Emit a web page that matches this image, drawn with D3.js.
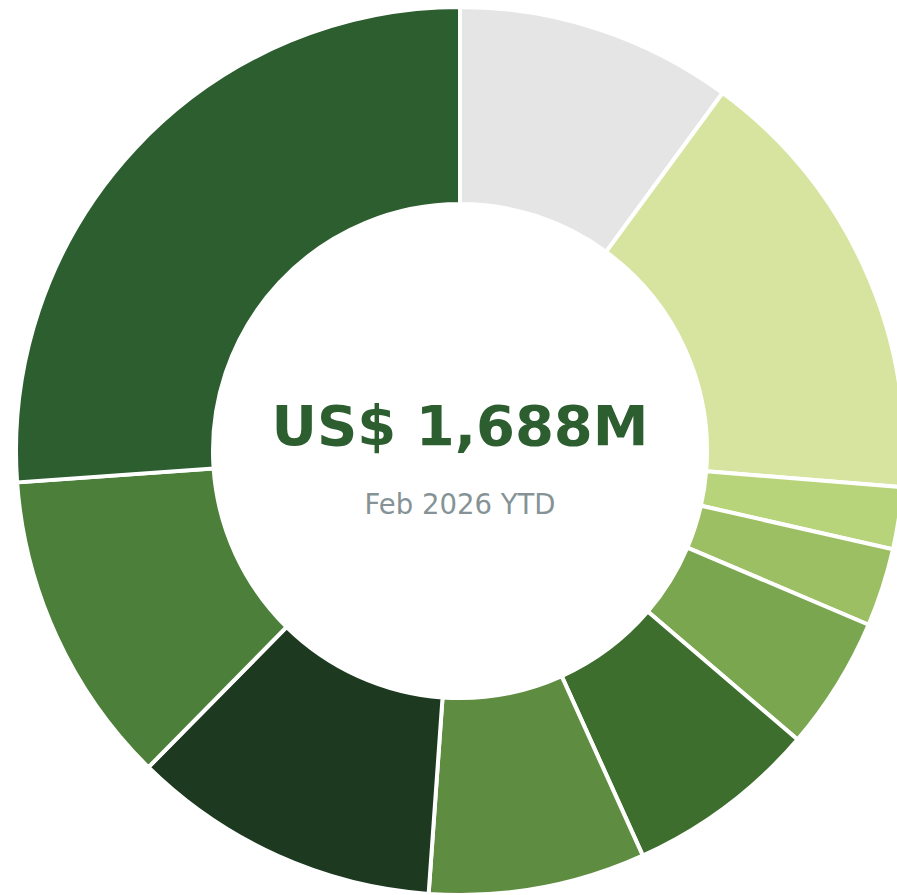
<!DOCTYPE html>
<html lang="en">
<head>
    <meta charset="UTF-8">
    <title>Revenue Donut</title>
    <script src="https://d3js.org/d3.v7.min.js"></script>
    <style>
        body { margin: 0; background: #fff; font-family: "DejaVu Sans", sans-serif; }
        svg { display: block; }
    </style>
</head>
<body>
    <div id="chart"></div>
    <script>
        // Segment values (US$ M), clockwise from 12 o'clock
        const segments = ["S1", "S2", "S3", "S4", "S5", "S6", "S7", "S8", "S9", "S10"];
        const values = [170, 274, 38, 48, 82, 118, 133, 190, 194, 441];
        const colors = ["#e5e5e5", "#d6e4a0", "#b8d47a", "#9bbf62", "#7aa650",
                        "#3d6e2d", "#5e8c40", "#1d3a20", "#4b7f3a", "#2d5e30"];
        const totalLabel = "US$ 1,688M";
        const periodLabel = "Feb 2026 YTD";

        const width = 897, height = 895;
        const cx = 460, cy = 451;
        const outerR = 444, innerR = 247;

        const svg = d3.select("#chart")
            .append("svg")
            .attr("width", width)
            .attr("height", height);

        const g = svg.append("g")
            .attr("transform", `translate(${cx},${cy})`);

        const data = segments.map((s, i) => ({name: s, value: values[i], color: colors[i]}));

        const pie = d3.pie()
            .value(d => d.value)
            .sort(null);

        const arc = d3.arc()
            .innerRadius(innerR)
            .outerRadius(outerR);

        g.selectAll("path")
            .data(pie(data))
            .enter().append("path")
            .attr("d", arc)
            .attr("fill", d => d.data.color)
            .attr("stroke", "#fff")
            .attr("stroke-width", 4);

        g.append("text")
            .attr("x", 0)
            .attr("y", -6)
            .attr("text-anchor", "middle")
            .style("font-size", "56px")
            .style("font-weight", "bold")
            .style("fill", "#2d5e30")
            .text(totalLabel);

        g.append("text")
            .attr("x", 0)
            .attr("y", 63)
            .attr("text-anchor", "middle")
            .style("font-size", "27.5px")
            .style("fill", "#869396")
            .text(periodLabel);
    </script>
</body>
</html>
